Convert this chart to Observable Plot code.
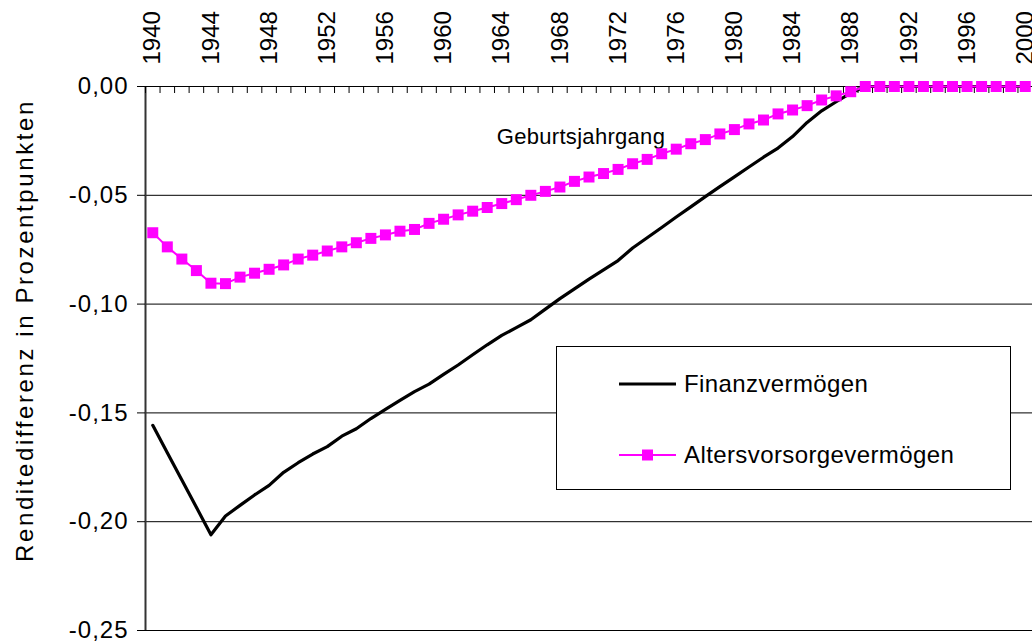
<!DOCTYPE html>
<html>
<head>
<meta charset="utf-8">
<script src="https://cdn.jsdelivr.net/npm/d3@7"></script>
<script src="https://cdn.jsdelivr.net/npm/@observablehq/plot@0.6"></script>
<style>
  html, body { margin: 0; padding: 0; background: #fff; }
  #wrap { position: relative; width: 1032px; height: 641px; font-family: "Liberation Sans", Arial, sans-serif; }
  #legend { position: absolute; left: 556px; top: 346px; width: 455px; height: 144px; background: #fff; border: 1px solid #000; box-sizing: border-box; }
  .lrow { position: absolute; left: 62px; height: 30px; display: flex; align-items: center; font-size: 24px; letter-spacing: 0.4px; color: #000; }
  .lrow svg { margin-right: 7px; }
  g[aria-label="y-axis tick label"] text { letter-spacing: 1px; }
  g.ytitle text { letter-spacing: 2.6px; }
  g.xtitle text { letter-spacing: 0.3px; }
</style>
</head>
<body>
<div id="wrap"></div>
<script>
const years = d3.range(1940, 2001);
const labelYears = d3.range(1940, 2001, 4);
const yTicks = [0, -0.05, -0.10, -0.15, -0.20, -0.25];
const seriesNames = ["Finanzvermögen", "Altersvorsorgevermögen"];
const xAxisTitle = "Geburtsjahrgang";
const yAxisTitle = "Renditedifferenz in Prozentpunkten";

// Finanzvermögen, 1940..2000
const finanz = [
  -0.1557, -0.1683, -0.1808, -0.1934, -0.2060, -0.1974, -0.1925, -0.1877, -0.1833, -0.1773,
  -0.1729, -0.1689, -0.1655, -0.1607, -0.1573, -0.1526, -0.1484, -0.1442, -0.1402, -0.1368,
  -0.1323, -0.1280, -0.1233, -0.1187, -0.1144, -0.1108, -0.1072, -0.1023, -0.0975, -0.0930,
  -0.0885, -0.0843, -0.0800, -0.0742, -0.0695, -0.0648, -0.0600, -0.0553, -0.0506, -0.0460,
  -0.0415, -0.0370, -0.0325, -0.0283, -0.0230, -0.0165, -0.0112, -0.0070, -0.0030, 0,
  0, 0, 0, 0, 0, 0, 0, 0, 0, 0, 0
];
// Altersvorsorgevermögen, 1940..2000
const alters = [
  -0.0672, -0.0737, -0.0793, -0.0846, -0.0904, -0.0906, -0.0876, -0.0858, -0.0840, -0.0820,
  -0.0793, -0.0775, -0.0756, -0.0737, -0.0718, -0.0698, -0.0682, -0.0665, -0.0657, -0.0629,
  -0.0610, -0.0590, -0.0573, -0.0556, -0.0538, -0.0520, -0.0500, -0.0482, -0.0462, -0.0436,
  -0.0416, -0.0400, -0.0381, -0.0355, -0.0335, -0.0309, -0.0288, -0.0263, -0.0244, -0.0218,
  -0.0198, -0.0172, -0.0154, -0.0126, -0.0108, -0.0088, -0.0062, -0.0043, -0.0024, 0,
  0, 0, 0, 0, 0, 0, 0, 0, 0, 0, 0
];

const finData = years.map((y, i) => ({year: y, value: finanz[i]}));
const altData = years.map((y, i) => ({year: y, value: alters[i]}));
const boundaries = d3.range(1939.5, 2001, 1);
const fmt = d => d.toFixed(2).replace(".", ",");

const FONT = "Liberation Sans, Arial, sans-serif";

const chart = Plot.plot({
  width: 1032,
  height: 641,
  marginLeft: 145,
  marginRight: 0,
  marginTop: 86,
  marginBottom: 11,
  style: {fontFamily: FONT, fontSize: "24px", color: "#000", background: "#fff", overflow: "visible"},
  x: {type: "linear", domain: [1939.5, 2000.5]},
  y: {domain: [-0.25, 0]},
  marks: [
    Plot.ruleY(yTicks.filter(d => d !== 0), {stroke: "#000", strokeWidth: 1}),
    Plot.ruleX([1939.5], {y1: -0.25, y2: 0, stroke: "#333", strokeWidth: 2}),
    Plot.axisY({ticks: yTicks, tickFormat: fmt, tickSize: 8, tickPadding: 9, stroke: "#000", fontSize: 24, label: null}),
    Plot.ruleY([0], {stroke: "#000", strokeWidth: 1}),
    Plot.axisX({anchor: "top", ticks: boundaries, tickSize: 6, dy: 6, tickFormat: () => "", stroke: "#000", label: null}),
    Plot.axisX({anchor: "top", ticks: labelYears, tickSize: 0, tickPadding: 22, tickRotate: -90, tickFormat: d => String(d), fontSize: 24, label: null}),
    Plot.text([yAxisTitle], {frameAnchor: "left", rotate: -90, dx: -120, dy: -28, fontSize: 24, textAnchor: "middle", className: "ytitle"}),
    Plot.text([xAxisTitle], {frameAnchor: "top", dy: 42, dx: -8, fontSize: 22, textAnchor: "middle", className: "xtitle"}),
    Plot.line(finData, {x: "year", y: "value", stroke: "#000", strokeWidth: 3.2}),
    Plot.line(altData, {x: "year", y: "value", stroke: "#FF00FF", strokeWidth: 2}),
    Plot.dot(altData, {x: "year", y: "value", symbol: "square", r: 6.2, fill: "#FF00FF", stroke: "none"})
  ]
});

const wrap = document.getElementById("wrap");
wrap.appendChild(chart);

const legend = document.createElement("div");
legend.id = "legend";
legend.innerHTML = `
  <div class="lrow" style="top:22px"><svg width="58" height="12"><line x1="0" y1="6" x2="57" y2="6" stroke="#000" stroke-width="3.2"/></svg>${seriesNames[0]}</div>
  <div class="lrow" style="top:93px"><svg width="58" height="14"><line x1="0" y1="7" x2="57" y2="7" stroke="#FF00FF" stroke-width="2"/><rect x="23" y="1.5" width="11" height="11" fill="#FF00FF"/></svg>${seriesNames[1]}</div>`;
wrap.appendChild(legend);
</script>
</body>
</html>
